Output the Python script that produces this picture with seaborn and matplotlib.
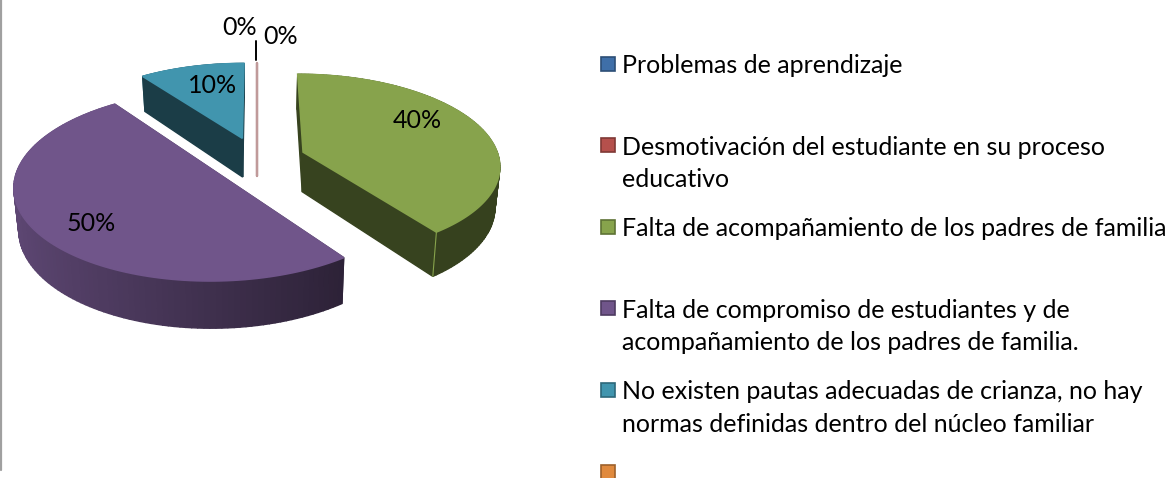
import numpy as np
import seaborn as sns
import matplotlib
matplotlib.use('Agg')
import matplotlib.pyplot as plt

categories = [
    'Problemas de aprendizaje',
    'Desmotivación del estudiante en su proceso\neducativo',
    'Falta de acompañamiento de los padres de familia',
    'Falta de compromiso de estudiantes y de\nacompañamiento de los padres de familia.',
    'No existen pautas adecuadas de crianza, no hay\nnormas definidas dentro del núcleo familiar',
    '',
]
values = [0, 0, 40, 50, 10, 0]
colors = ['#3f6fa8', '#b5504c', '#87a34c', '#70558a', '#4195ae', '#e08a3e']

sns.set_theme(style='white')
plt.rcParams['font.family'] = ['Lato', 'DejaVu Sans']

fig = plt.figure(figsize=(11.71, 4.78), dpi=100)
ax = fig.add_axes([0, 0, 1, 1])
ax.set_xlim(0, 1171)
ax.set_ylim(478, 0)
ax.axis('off')

# 3d look of the pie, all in pixels
cx, cy = 257, 159
a, b, k = 196, 90, 0.134
explode = 0.25
depth = 40


def project(u, v):
    # far side of the disk gets smaller
    s = 1 / (1 + k * v)
    return cx + a * u * s, cy - b * v * s, s


def shade(color, f):
    return tuple(c * f for c in matplotlib.colors.to_rgb(color))


def drop(x, y, s):
    # bottom of the slice, a bit narrower than the top
    return cx + (x - cx) * 0.98, y + depth * s


def quad(x0, y0, x1, y1, s0, s1, color):
    bx0, by0 = drop(x0, y0, s0)
    bx1, by1 = drop(x1, y1, s1)
    ax.fill([x0, x1, bx1, bx0], [y0, y1, by1, by0], color=color, lw=1.0)


edges = np.cumsum([0] + values) / sum(values) * 2 * np.pi
mids = (edges[:-1] + edges[1:]) / 2
order = np.argsort(-np.cos(mids), kind='stable')

for i in order:
    t0, t1, mid = edges[i], edges[i + 1], mids[i]
    ou, ov = explode * np.sin(mid), explode * np.cos(mid)
    ox, oy, os_ = project(ou, ov)
    if values[i] == 0:
        rx, ry, s = project(ou + np.sin(t0), ov + np.cos(t0))
        ax.plot([rx, rx], [ry, oy + depth * os_], color='#c09a9a', lw=1.6)
        continue
    th = np.linspace(t0, t1, 120)
    xs, ys, s = project(ou + np.sin(th), ov + np.cos(th))

    def rim_quads(far):
        for j in range(len(th) - 1):
            if (np.cos(th[j]) > 0) == far:
                f = np.interp(np.sin(th[j]), [-1, 0.6], [0.84, 0.40])
                quad(xs[j], ys[j], xs[j + 1], ys[j + 1], s[j], s[j + 1], shade(colors[i], f))

    rim_quads(True)
    side = shade(colors[i], 0.41)
    quad(ox, oy, xs[0], ys[0], os_, s[0], side)
    quad(ox, oy, xs[-1], ys[-1], os_, s[-1], side)
    rim_quads(False)
    ax.fill(np.r_[ox, xs], np.r_[oy, ys], color=colors[i], lw=1.2)
    if np.cos(t1) < 0 and np.sin(t1) > 0:
        bx, by = drop(xs[-1], ys[-1], s[-1])
        ax.plot([xs[-1], bx], [ys[-1], by], color=colors[i], lw=0.8)

# leader line of the small slice and the frame on the left
ax.plot([256, 256], [41, 60], color='black', lw=1.4)
ax.plot([0.5, 0.5], [0, 470], color='#a0a0a0', lw=1.6)

fs = 18
label_xy = [(240, 27), (281, 36), (417, 120), (91, 223), (213, 85), None]
for v, xy in zip(values, label_xy):
    if xy is not None:
        ax.text(xy[0], xy[1], f'{v}%', ha='center', va='center', fontsize=fs, color='black')

# legend, one slot per category
for i, (name, col) in enumerate(zip(categories, colors)):
    y = 64 + i * 81.6
    ax.add_patch(plt.Rectangle((601, y - 7.5), 14, 14, fc=col, ec=shade(col, 0.7), lw=1.2))
    ax.text(622, y - 10, name, ha='left', va='top', fontsize=fs, color='black', linespacing=1.5)

fig.savefig('out.png', dpi=100)
